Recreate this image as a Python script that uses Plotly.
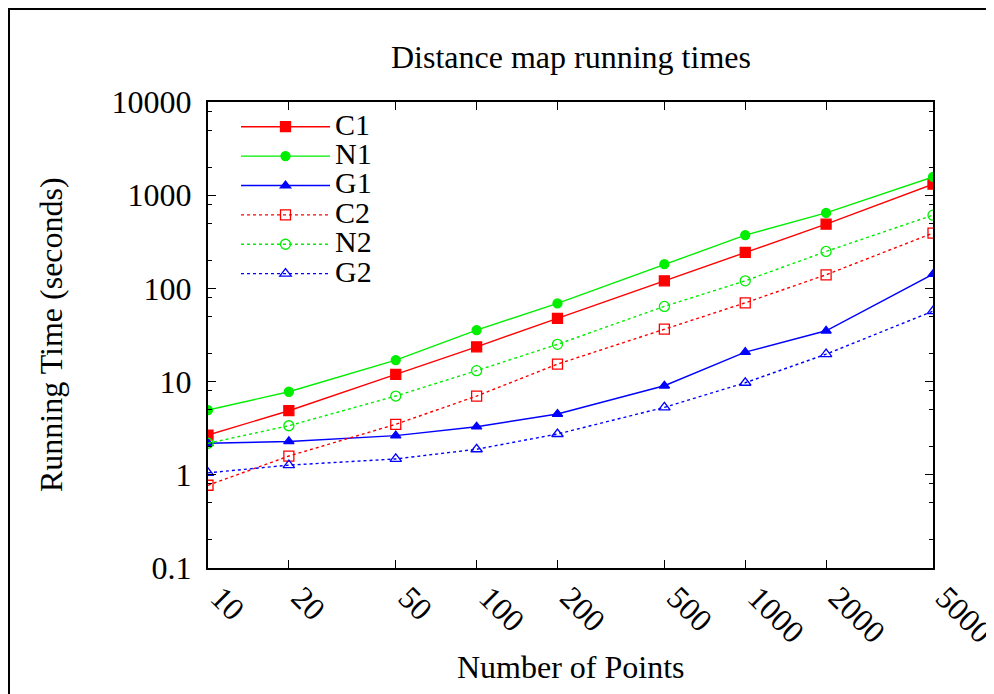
import plotly.graph_objects as go

# ---- data ----
points = [10, 20, 50, 100, 200, 500, 1000, 2000, 5000]
c1 = [2.67, 4.87, 11.96, 23.6, 47.7, 120.6, 243, 489, 1313]
n1 = [4.95, 7.78, 17.0, 35.7, 69.0, 182, 373, 646, 1572]
g1 = [2.18, 2.28, 2.63, 3.28, 4.49, 9.02, 20.7, 35.1, 142]
c2 = [0.772, 1.59, 3.48, 7.0, 15.4, 36.6, 70.0, 140, 392]
n2 = [2.18, 3.36, 7.0, 13.1, 25.1, 64.1, 120.6, 249, 611]
g2 = [1.05, 1.27, 1.48, 1.88, 2.74, 5.29, 9.72, 19.7, 57]

series_names = ["C1", "N1", "G1", "C2", "N2", "G2"]
series_values = [c1, n1, g1, c2, n2, g2]

x_tickvals = [10, 20, 50, 100, 200, 500, 1000, 2000, 5000]
x_ticklabels = ["10", "20", "50", "100", "200", "500", "1000", "2000", "5000"]
y_tickvals = [0.1, 1, 10, 100, 1000, 10000]
y_ticklabels = ["0.1", "1", "10", "100", "1000", "10000"]
y_minor_mult = [2, 5, 8]
y_minor_vals = [m * v for v in y_tickvals[:-1] for m in y_minor_mult]

title_text = "Distance map running times"
x_title = "Number of Points"
y_title = "Running Time (seconds)"

# ---- styles ----
colors = ["#ff0000", "#00ee00", "#0000ff", "#ff0000", "#00ee00", "#0000ff"]
symbols = ["square", "circle", "triangle-up", "square-open", "circle-open", "triangle-up-open"]
dashes = ["solid", "solid", "solid", "dot", "dot", "dot"]
msizes = [10, 9, 9, 10, 10, 10]

FONT = "Liberation Serif"
FS = 32
LEG_FS = 30

OFF = 8  # page offset of the figure inside the browser window
W, H = 994, 694
L, R, T, B = 200, 69, 94, 134
pw, ph = W - L - R, H - T - B


def px_x(x):
    return (x - OFF - L) / pw


def px_y(y):
    return (H - B - (y - OFF)) / ph


fig = go.Figure()
for name, vals, col, sym, dash, ms in zip(series_names, series_values, colors, symbols, dashes, msizes):
    fig.add_trace(go.Scatter(
        x=points, y=vals, mode="lines+markers",
        name='<span style="font-size:%dpx">%s</span>' % (LEG_FS, name),
        line=dict(color=col, width=1.4, dash=dash),
        marker=dict(symbol=sym, size=ms, color=col, line=dict(color=col, width=1.3)),
    ))

axis_common = dict(
    showline=True, linecolor="black", linewidth=2, mirror="allticks",
    ticks="inside", tickcolor="black", tickwidth=1.3, ticklen=8,
    showgrid=False, zeroline=False,
    tickfont=dict(family=FONT, size=FS, color="black"),
)

fig.update_xaxes(
    type="log", range=[1, 3.69897],
    tickmode="array", tickvals=x_tickvals, ticktext=x_ticklabels,
    tickangle=45, ticklabelstandoff=-4, ticklabelshift=12,
    **axis_common,
)
fig.update_yaxes(
    type="log", range=[-1, 4],
    tickmode="array", tickvals=y_tickvals, ticktext=y_ticklabels,
    ticklabelstandoff=8,
    minor=dict(tickmode="array", tickvals=y_minor_vals, ticks="inside",
               ticklen=4, tickwidth=1.3, tickcolor="black", showgrid=False),
    **axis_common,
)

fig.update_layout(
    width=W, height=H,
    margin=dict(l=L, r=R, t=T, b=B, autoexpand=False),
    paper_bgcolor="white", plot_bgcolor="white",
    font=dict(family=FONT, size=FS, color="black"),
    showlegend=True,
    legend=dict(
        x=px_x(236), y=px_y(107), xanchor="left", yanchor="top",
        bgcolor="rgba(0,0,0,0)", borderwidth=0,
        font=dict(family=FONT, size=20.3, color="black"),
        itemwidth=89, tracegroupgap=0,
    ),
    annotations=[
        dict(text=title_text, xref="paper", yref="paper", x=px_x(571), y=px_y(57),
             xanchor="center", yanchor="middle", showarrow=False,
             font=dict(family=FONT, size=FS, color="black")),
        dict(text=x_title, xref="paper", yref="paper", x=px_x(571), y=px_y(667),
             xanchor="center", yanchor="middle", showarrow=False,
             font=dict(family=FONT, size=FS, color="black")),
        dict(text=y_title, xref="paper", yref="paper", x=px_x(51), y=px_y(335),
             xanchor="center", yanchor="middle", showarrow=False, textangle=-90,
             font=dict(family=FONT, size=FS, color="black")),
    ],
    shapes=[
        dict(type="rect", xref="paper", yref="paper",
             x0=px_x(9), x1=px_x(1020), y0=px_y(720), y1=px_y(9),
             line=dict(color="black", width=2), fillcolor="rgba(0,0,0,0)", layer="above"),
    ],
)

fig.write_html("out.html")
